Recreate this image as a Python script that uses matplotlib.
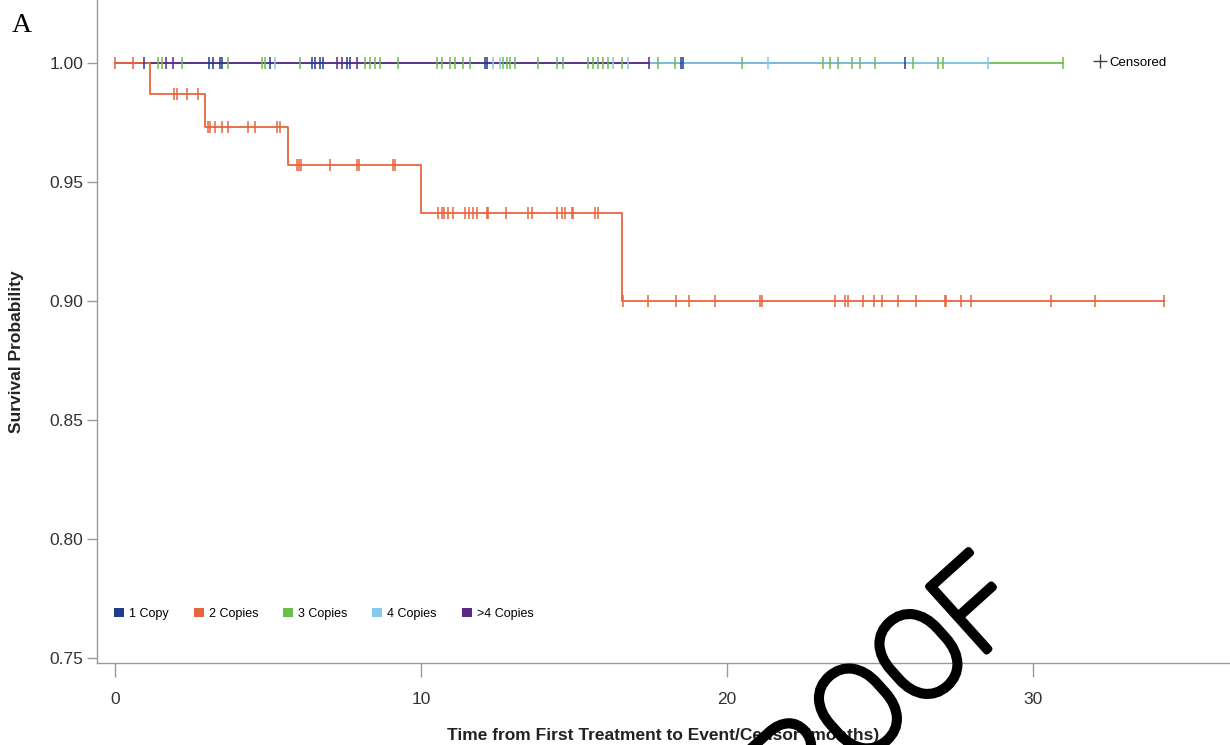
import numpy as np
import matplotlib
matplotlib.use("Agg")
import matplotlib.pyplot as plt
import matplotlib.patheffects as pe
from matplotlib.patches import Patch
from matplotlib.lines import Line2D

plt.rcParams['font.family'] = ['Liberation Sans', 'DejaVu Sans']

# ---------------- data ----------------
groups = ["1 Copy", "2 Copies", "3 Copies", "4 Copies", ">4 Copies"]
colors = ["#1f3d8c", "#e8643f", "#6cbf4c", "#86c9ee", "#5b2a86"]

# event times / survival after each event (2 Copies is the only group with events)
events_2 = [1.15, 2.94, 5.65, 10.0, 16.57]
surv_2 = [0.987, 0.973, 0.957, 0.937, 0.900]

# censor times for each group
cens_1 = [0.95, 3.07, 3.20, 3.43, 3.50, 5.07, 6.44, 6.54, 6.70, 6.80, 7.58, 7.68,
          12.09, 12.16, 18.50, 18.56, 25.82]
cens_2 = [0.0, 0.6, 1.93, 2.03, 2.35, 2.71, 3.04, 3.10, 3.27, 3.50, 3.69, 4.35, 4.58,
          5.29, 5.39, 5.95, 6.01, 6.08, 7.03, 7.91, 7.97, 9.08, 9.15, 10.54, 10.68,
          10.75, 10.89, 11.06, 11.44, 11.57, 11.71, 11.84, 12.17, 12.20, 12.78, 13.51,
          13.62, 14.44, 14.60, 14.71, 14.92, 14.98, 15.69, 15.80, 16.61, 17.42, 18.33,
          18.77, 19.62, 21.07, 21.16, 23.52, 23.87, 23.97, 24.45, 24.81, 25.07, 25.58,
          26.17, 27.13, 27.17, 27.65, 27.97, 30.58, 32.04, 34.27]
cens_3 = [1.41, 1.54, 2.19, 3.69, 4.80, 4.90, 6.05, 8.17, 8.33, 8.50, 8.66, 9.25,
          10.52, 10.69, 10.95, 11.11, 11.37, 11.60, 12.68, 12.81, 12.91, 13.07, 13.82,
          14.44, 14.64, 15.46, 15.62, 15.78, 15.95, 16.11, 16.57, 17.75, 18.30, 20.49,
          23.14, 23.37, 23.63, 24.08, 24.35, 24.84, 26.08, 26.90, 27.06, 30.98]
cens_4 = [5.23, 12.35, 12.58, 16.27, 16.76, 21.34, 28.53]
cens_5 = [1.67, 1.90, 7.25, 7.42, 7.91, 17.45]

censors = [cens_1, cens_2, cens_3, cens_4, cens_5]
group_events = [[], events_2, [], [], []]
group_surv = [[], surv_2, [], [], []]

xticks = [0, 10, 20, 30]
yticks = [0.75, 0.80, 0.85, 0.90, 0.95, 1.00]

# ---------------- figure ----------------
fig = plt.figure(figsize=(12.3, 7.45), dpi=100)
ax = fig.add_axes([97 / 1230, 82 / 745, 1 - 97 / 1230, 663 / 745])

def surv_fn(ev, sv, t):
    ev = np.asarray(ev)
    sv = np.concatenate([[1.0], np.asarray(sv)])
    idx = np.searchsorted(ev, np.asarray(t), side='right')
    return sv[idx]

draw_order = [2, 0, 3, 4, 1]
for z, gi in enumerate(draw_order):
    ev, sv, cs = group_events[gi], group_surv[gi], censors[gi]
    tmax = max(cs + ev)
    xs = np.concatenate([[0.0], ev, [tmax]])
    ys = surv_fn(ev, sv, xs)
    ax.step(xs, ys, where='post', color=colors[gi], lw=1.3, zorder=2 + z)
for z, gi in enumerate(draw_order):
    ev, sv, cs = group_events[gi], group_surv[gi], censors[gi]
    ax.plot(cs, surv_fn(ev, sv, cs), ls='none', marker='|', ms=8, mew=1.1,
            color=colors[gi], zorder=10 + z)

ax.set_xlim(-0.59, 36.44)
ax.set_ylim(0.7479, 1.0265)
ax.set_xticks(xticks)
ax.set_yticks(yticks)
ax.set_yticklabels([f"{v:.2f}" for v in yticks])

for s in ['top', 'right']:
    ax.spines[s].set_visible(False)
for s in ['left', 'bottom']:
    ax.spines[s].set_color('#9a9a9a')
    ax.spines[s].set_linewidth(1.0)
ax.tick_params(axis='both', colors='#9a9a9a', labelcolor='#333333', labelsize=12.5,
               width=1.0)
ax.tick_params(axis='y', length=7, pad=3)
ax.tick_params(axis='x', length=10, pad=11)

ax.set_xlabel("Time from First Treatment to Event/Censor (months)", fontsize=12.5,
              fontweight='bold', color='#222222', labelpad=15)
ax.set_ylabel("Survival Probability", fontsize=12.5, fontweight='bold',
              color='#222222')
ax.yaxis.set_label_coords(-0.064, 0.47)

# group legend
handles = [Patch(facecolor=c, edgecolor='none', label=g) for g, c in zip(groups, colors)]
leg = ax.legend(handles=handles, loc='center left', bbox_to_anchor=(0.005, 0.074),
                ncol=5, frameon=False, fontsize=9, handlelength=0.8,
                handleheight=0.8, handletextpad=0.4, columnspacing=2.0)
ax.add_artist(leg)

# censored legend
ch = [Line2D([], [], ls='none', marker='+', ms=10, mew=1.0, color='#444444',
             label='Censored')]
ax.legend(handles=ch, loc='center left', bbox_to_anchor=(0.869, 0.905),
          frameon=False, fontsize=9.5, handlelength=1.0, handletextpad=0.2)

fig.text(12 / 1230, 1 - 25 / 745, "A", fontsize=20, family='Liberation Serif',
         va='center', ha='left')

# watermark
fig.text(1030 / 1230, 1 - 612 / 745, "PROOF", fontsize=88, color='black',
         family=['Roboto', 'Liberation Sans'], fontweight='light',
         rotation=42, rotation_mode='anchor', ha='right', va='baseline',
         path_effects=[pe.withStroke(linewidth=5, foreground='black')])

fig.savefig("out.png", dpi=100)
